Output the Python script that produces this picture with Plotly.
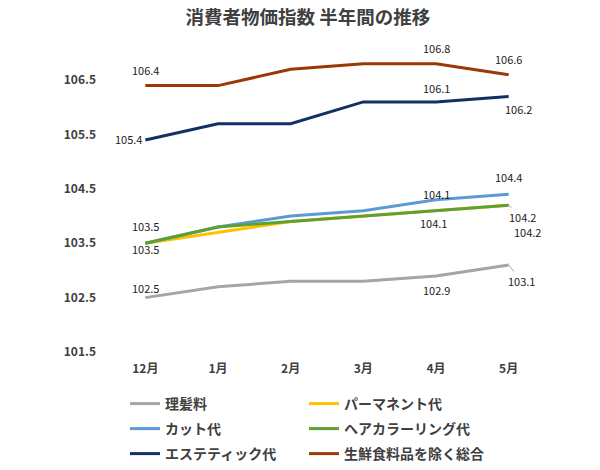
import plotly.graph_objects as go

months = ["12月", "1月", "2月", "3月", "4月", "5月"]
names = ["理髪料", "パーマネント代", "カット代", "ヘアカラーリング代", "エステティック代", "生鮮食料品を除く総合"]
rihatsu = [102.5, 102.7, 102.8, 102.8, 102.9, 103.1]
perm = [103.5, 103.7, 103.9, 104.0, 104.1, 104.2]
cut = [103.5, 103.8, 104.0, 104.1, 104.3, 104.4]
color_ = [103.5, 103.8, 103.9, 104.0, 104.1, 104.2]
esthe = [105.4, 105.7, 105.7, 106.1, 106.1, 106.2]
sogo = [106.4, 106.4, 106.7, 106.8, 106.8, 106.6]
y_ticks = [101.5, 102.5, 103.5, 104.5, 105.5, 106.5]

series = [rihatsu, perm, cut, color_, esthe, sogo]
colors = ["#A5A5A5", "#FFC000", "#5B9BD5", "#5FA131", "#142F63", "#9C3806"]
legend_ids = ["legend", "legend2", "legend3", "legend4", "legend5", "legend6"]
# legend entry positions (container px): column x, row y
legend_pos = [(125, 404), (304, 404), (125, 429), (304, 429), (125, 454), (304, 454)]

FONT = "Noto Sans CJK JP"
fig = go.Figure()
for nm, vals, c, lg in zip(names, series, colors, legend_ids):
    fig.add_trace(go.Scatter(x=months, y=vals, name=nm, mode="lines",
                             line=dict(color=c, width=3), legend=lg,
                             showlegend=True, hoverinfo="skip"))

# data label placement: (series index, month index, xshift, yshift, leader)
label_specs = [
    (5, 0, 0, 16, False), (5, 4, 0, 16, False), (5, 5, 0, 16, False),
    (4, 0, -17, 1, False), (4, 4, 0, 14, False), (4, 5, 10, -13, False),
    (2, 5, 0, 17, False),
    (3, 0, 0, 17, False), (3, 4, 0, 17, False), (3, 5, 14, 12, True),
    (1, 0, 0, -6, False), (1, 4, -3, -12, False), (1, 5, 19, -27, False),
    (0, 0, 0, 10, False), (0, 4, 0, -14, False), (0, 5, 13, 16, True),
]
for si, mi, dx, dy, leader in label_specs:
    v = series[si][mi]
    if leader:
        fig.add_annotation(x=months[mi], y=v, text=f"{v:.1f}", showarrow=True,
                           ax=dx, ay=dy, arrowhead=0, arrowwidth=1,
                           arrowcolor="#A6A6A6", standoff=0,
                           font=dict(family=FONT, size=11, color="#222"))
    else:
        fig.add_annotation(x=months[mi], y=v, text=f"{v:.1f}", showarrow=False,
                           xshift=dx, yshift=dy,
                           font=dict(family=FONT, size=11, color="#222"))

leg_common = dict(orientation="h", xref="container", yref="container",
                  xanchor="left", yanchor="middle", bgcolor="rgba(0,0,0,0)",
                  font=dict(family=FONT, size=14, color="#404040", weight="bold"),
                  itemwidth=30)

legends = {}
for lg, (px, py) in zip(legend_ids, legend_pos):
    legends[lg] = dict(x=px / 600, y=1 - py / 470, **leg_common)

fig.update_layout(
    width=600, height=470,
    paper_bgcolor="white", plot_bgcolor="white",
    showlegend=True,
    margin=dict(l=109, r=55, t=53, b=118, autoexpand=False),
    title=dict(text="<b>消費者物価指数 半年間の推移</b>", x=0.513, xanchor="center",
               y=1 - 18 / 470, yanchor="middle",
               font=dict(family=FONT, size=18.5, color="#404040")),
    font=dict(family=FONT),
    xaxis=dict(type="category", range=[-0.5, 5.5], showgrid=False, zeroline=False,
               showline=False, ticks="", ticklabelstandoff=8,
               tickfont=dict(family=FONT, size=12, color="#404040", weight="bold")),
    yaxis=dict(range=[101.5, 107.0], tickvals=y_ticks,
               ticktext=[f"{t:.1f}" for t in y_ticks], showgrid=False,
               zeroline=False, showline=False, ticks="", ticklabelstandoff=12,
               tickfont=dict(family=FONT, size=12, color="#404040", weight="bold")),
    hovermode=False,
    **legends,
)

fig.write_html("out.html", config={"displayModeBar": False},
               post_script="document.body.style.margin='0';document.body.style.padding='0';")
